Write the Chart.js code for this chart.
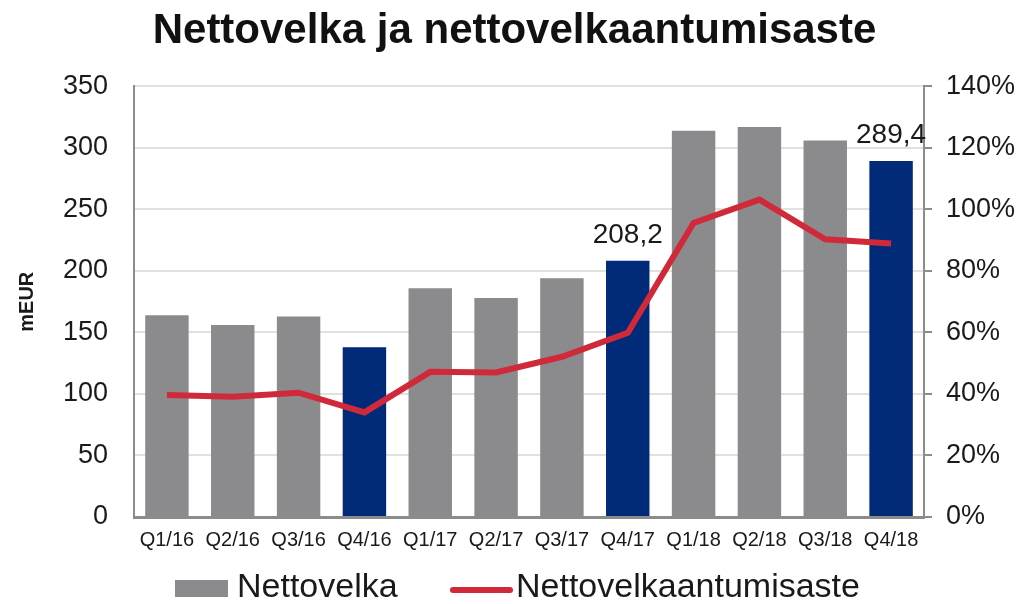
<!DOCTYPE html>
<html>
<head>
<meta charset="utf-8">
<script src="https://cdn.jsdelivr.net/npm/chart.js@4.4.1/dist/chart.umd.min.js"></script>
<style>
    html, body { margin: 0; padding: 0; background: #ffffff; overflow: hidden; }
    #wrap { width: 1029px; height: 604px; position: relative; }
</style>
</head>
<body>
<div id="wrap"><canvas id="debtChart"></canvas></div>
<script>
// quarters, net debt (mEUR) and gearing (%)
const quarters = ['Q1/16', 'Q2/16', 'Q3/16', 'Q4/16', 'Q1/17', 'Q2/17', 'Q3/17', 'Q4/17', 'Q1/18', 'Q2/18', 'Q3/18', 'Q4/18'];
const nettovelka = [164, 156, 163, 138, 186, 178, 194, 208.2, 314, 317, 306, 289.4];
const gearing = [39.7, 39.1, 40.4, 34.0, 47.2, 47.0, 52.1, 59.9, 95.6, 103.2, 90.3, 88.9];
const labelledQuarters = ['Q4/17', 'Q4/18'];

const GREY = '#8b8b8d';
const NAVY = '#012a78';
const RED = '#d02a3a';
const AXIS = '#8c8c8c';
const FONT = "'Liberation Sans', Arial, sans-serif";

// year-end quarters are highlighted in navy
const barColors = quarters.map(q => q.startsWith('Q4') ? NAVY : GREY);

const valueLabels = {
    id: 'valueLabels',
    afterDatasetsDraw(chart) {
        const ctx = chart.ctx;
        const meta = chart.getDatasetMeta(1);
        ctx.save();
        ctx.font = '28px ' + FONT;
        ctx.fillStyle = '#1a1a1a';
        ctx.textAlign = 'center';
        ctx.textBaseline = 'alphabetic';
        quarters.forEach((q, i) => {
            if (!labelledQuarters.includes(q)) return;
            const bar = meta.data[i];
            ctx.fillText(nettovelka[i].toFixed(1).replace('.', ','), bar.x, bar.y - 18);
        });
        ctx.restore();
    }
};

const bottomLegend = {
    id: 'bottomLegend',
    afterDraw(chart) {
        const ctx = chart.ctx;
        const y = 588;
        ctx.save();
        ctx.font = '34px ' + FONT;
        ctx.textBaseline = 'middle';
        ctx.fillStyle = GREY;
        ctx.fillRect(175, y - 8, 53, 17);
        ctx.fillStyle = '#1a1a1a';
        ctx.fillText('Nettovelka', 237, y);
        ctx.strokeStyle = RED;
        ctx.lineWidth = 6;
        ctx.lineCap = 'round';
        ctx.beginPath();
        ctx.moveTo(453, y + 2);
        ctx.lineTo(510, y + 2);
        ctx.stroke();
        ctx.fillText('Nettovelkaantumisaste', 516, y);
        ctx.restore();
    }
};

const ctx = document.getElementById('debtChart').getContext('2d');
const debtChart = new Chart(ctx, {
    type: 'bar',
    data: {
        labels: quarters,
        datasets: [
            {
                label: 'Nettovelkaantumisaste',
                type: 'line',
                data: gearing,
                yAxisID: 'y2',
                borderColor: RED,
                backgroundColor: RED,
                borderWidth: 6,
                pointRadius: 0,
                tension: 0,
                order: 0
            },
            {
                label: 'Nettovelka',
                data: nettovelka,
                yAxisID: 'y',
                backgroundColor: barColors,
                barPercentage: 0.66,
                categoryPercentage: 1,
                order: 1
            }
        ]
    },
    plugins: [valueLabels, bottomLegend],
    options: {
        responsive: true,
        maintainAspectRatio: false,
        animation: false,
        layout: { padding: { left: 0, right: 0, top: 0, bottom: 50 } },
        plugins: {
            legend: { display: false },
            tooltip: { enabled: false },
            title: {
                display: true,
                text: 'Nettovelka ja nettovelkaantumisaste',
                color: '#111111',
                font: { family: FONT, size: 42, weight: 'bold' },
                padding: { top: 6, bottom: 30 }
            }
        },
        scales: {
            x: {
                grid: { display: false, drawTicks: false },
                border: { color: AXIS, width: 3 },
                ticks: {
                    color: '#1a1a1a',
                    font: { family: FONT, size: 20 },
                    padding: 11,
                    maxRotation: 0,
                    autoSkip: false
                },
                afterFit(scale) { scale.height = 37; }
            },
            y: {
                position: 'left',
                min: 0,
                max: 350,
                ticks: {
                    stepSize: 50,
                    color: '#1a1a1a',
                    font: { family: FONT, size: 27 },
                    padding: 26
                },
                grid: { color: '#e2e2dc', lineWidth: 2, drawTicks: false },
                border: { color: AXIS, width: 2 },
                title: {
                    display: true,
                    text: 'mEUR',
                    color: '#1a1a1a',
                    font: { family: FONT, size: 20, weight: 'bold' },
                    padding: { top: 15, bottom: 0 }
                },
                afterFit(scale) { scale.width = 134; }
            },
            y2: {
                position: 'right',
                min: 0,
                max: 140,
                ticks: {
                    stepSize: 20,
                    color: '#1a1a1a',
                    font: { family: FONT, size: 27 },
                    padding: 14,
                    callback: v => v + '%'
                },
                grid: { drawOnChartArea: false, color: AXIS, lineWidth: 2, tickLength: 8 },
                border: { color: AXIS, width: 2 },
                afterFit(scale) { scale.width = 105; }
            }
        }
    }
});
</script>
</body>
</html>
